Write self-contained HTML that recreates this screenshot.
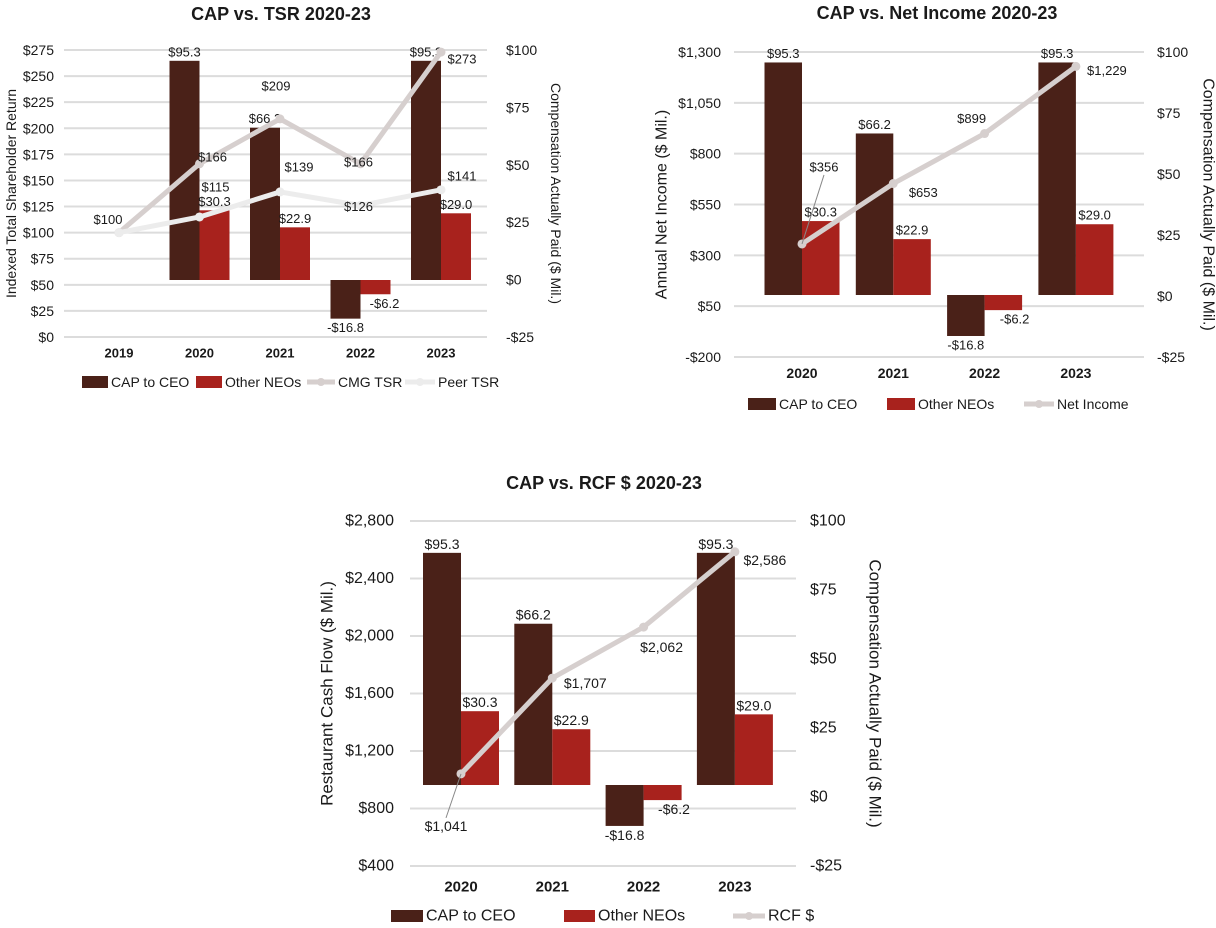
<!DOCTYPE html>
<html><head><meta charset="utf-8"><style>
html,body{margin:0;padding:0;background:#fff;}
svg{display:block;font-family:"Liberation Sans",Arial,sans-serif;}
</style></head><body>
<svg id="svg" width="1216" height="928" viewBox="0 0 1216 928"></svg>
<script>
// ---- data ----
const tsrYears = ["2019","2020","2021","2022","2023"];
const tsrCeo = [null,95.3,66.2,-16.8,95.3];
const tsrNeo = [null,30.3,22.9,-6.2,29.0];
const cmgTsr = [100,166,209,166,273];
const peerTsr = [100,115,139,126,141];
const tsrLeftTicks = [0,25,50,75,100,125,150,175,200,225,250,275];
const capTicks = [-25,0,25,50,75,100];

const niYears = ["2020","2021","2022","2023"];
const niCeo = [95.3,66.2,-16.8,95.3];
const niNeo = [30.3,22.9,-6.2,29.0];
const netIncome = [356,653,899,1229];
const niLeftTicks = [-200,50,300,550,800,1050,1300];

const rcfYears = ["2020","2021","2022","2023"];
const rcfCeo = [95.3,66.2,-16.8,95.3];
const rcfNeo = [30.3,22.9,-6.2,29.0];
const rcfValues = [1041,1707,2062,2586];
const rcfLeftTicks = [400,800,1200,1600,2000,2400,2800];

const NS="http://www.w3.org/2000/svg";
const svg=document.getElementById('svg');
function el(tag,attrs,parent){const e=document.createElementNS(NS,tag);for(const k in attrs)e.setAttribute(k,attrs[k]);(parent||svg).appendChild(e);return e;}
function txt(s,x,y,size,opts,parent){opts=opts||{};const t=el('text',{x:x,y:y,'font-size':size,fill:'#1a1a1a','text-anchor':opts.anchor||'middle','dominant-baseline':'central','font-weight':opts.bold?'bold':'normal'},parent);if(opts.rot)t.setAttribute('transform','rotate('+opts.rot+' '+x+' '+y+')');t.textContent=s;return t;}
function fmt(v,comma){const neg=v<0;let a=Math.abs(v);let s=comma?a.toLocaleString('en-US'):a.toFixed(1);return (neg?'-$':'$')+s;}

function drawChart(c){
  const g=el('g',{});
  
  
  const L=v=>c.lBot-(v-c.lMin)/(c.lMax-c.lMin)*(c.lBot-c.lTop);
  const R=v=>c.rBot-(v+25)/125*(c.rBot-c.rTop);
  const B=v=>c.base-v*c.bs;
  const X=i=>c.x0+i*c.dx;
  const t=txt(c.title,c.titleX,c.titleY,18,{bold:true},g);
  
  c.lTicks.forEach(v=>{
    const y=L(v);
    const ln=el('line',{x1:c.gx1,x2:c.gx2,y1:y,y2:y,stroke:'#dcdcdc','stroke-width':2},g);
    
    const tl=txt(fmt(v,true),c.lLabX,y,c.tf,{anchor:'end'},g);
    
  });
  capTicks.forEach(v=>{
    const tr=txt(fmt(v,true),c.rLabX,R(v),c.tf,{anchor:'start'},g);
    
  });
  const lt=txt(c.lTitle,c.lTitleX,(c.lTop+c.lBot)/2,c.af,{rot:-90},g);
  
  const rt=txt('Compensation Actually Paid ($ Mil.)',c.rTitleX,(c.rTop+c.rBot)/2,c.af,{rot:90},g);
  
  c.years.forEach((yr,i)=>{
    const cl=txt(yr,X(i),c.catY,c.cf,{bold:true},g);
    
  });
  [[c.ceo,-1,'#4a2118','bar-ceo'],[c.neo,0,'#a8221d','bar-neo']].forEach(([arr,off,col,nm])=>{
    arr.forEach((v,i)=>{
      if(v===null)return;
      const x=X(i)+off*c.bw, y1=B(Math.max(v,0)), y2=B(Math.min(v,0));
      const r=el('rect',{x:x,y:y1,width:c.bw,height:y2-y1,fill:col},g);
      
      const ly=v>=0?y1-9:y2+9;
      const lx=x+c.bw/2+(v<0&&off===0?c.bw*0.3:0);
      const dl=txt(fmt(v),lx,ly,c.df,{},g);
      
    });
  });
  c.lines.forEach(ln=>{
    const pts=ln.vals.map((v,i)=>[X(i),L(v)]);
    const p=el('polyline',{points:pts.map(p=>p.join(',')).join(' '),fill:'none',stroke:ln.color,'stroke-width':5,'stroke-linejoin':'round'},g);
    
    pts.forEach((pt,i)=>{
      const m=el('circle',{cx:pt[0],cy:pt[1],r:4.5,fill:ln.color},g);
      
      const o=ln.offs[i];
      if(o[2]===0)return;
      if(o[2]){const ll=el('line',{x1:pt[0],y1:pt[1],x2:pt[0]+o[0],y2:pt[1]+o[1]+(o[1]<0?8:-8),stroke:'#888','stroke-width':1},g);}
      const lb=txt(fmt(ln.vals[i],true),pt[0]+o[0],pt[1]+o[1],c.df,{},g);
      
    });
  });
  c.legend.forEach(it=>{
    let s;
    if(it.type==='bar') s=el('rect',{x:it.x,y:c.legY-6,width:it.w,height:12,fill:it.color},g);
    else { s=el('line',{x1:it.x,x2:it.x+it.w,y1:c.legY,y2:c.legY,stroke:it.color,'stroke-width':5},g);
      el('circle',{cx:it.x+it.w/2,cy:c.legY,r:4,fill:it.color},g); }
    
    const lt2=txt(it.label,it.x+it.w+3,c.legY,c.lf,{anchor:'start'},g);
    
  });
}

drawChart({name:'cap-vs-tsr-chart',title:'CAP vs. TSR 2020-23',titleX:281,titleY:14,
  years:tsrYears,ceo:tsrCeo,neo:tsrNeo,x0:119,dx:80.5,bw:30,base:280,bs:2.3,
  lMin:0,lMax:275,lTop:50,lBot:337,rTop:50,rBot:337,lTicks:tsrLeftTicks,
  gx1:64,gx2:487,lLabX:54,rLabX:506,lTitle:'Indexed Total Shareholder Return',lTitleX:11,rTitleX:556,
  catY:353,tf:14,af:14,cf:13,df:13,lf:14,legY:382,
  lines:[{name:'cmg-tsr-line',color:'#d6cfce',vals:cmgTsr,offs:[[-11,-13],[13,-7],[-4,-33],[-2,-2],[21,7]]},
         {name:'peer-tsr-line',color:'#ececec',vals:peerTsr,offs:[[0,0,0],[16,-30],[19,-25],[-2,1],[21,-14]]}],
  legend:[{type:'bar',x:82,w:26,color:'#4a2118',label:'CAP to CEO'},{type:'bar',x:196,w:26,color:'#a8221d',label:'Other NEOs'},
          {type:'line',x:307,w:28,color:'#d6cfce',label:'CMG TSR'},{type:'line',x:405,w:30,color:'#ececec',label:'Peer TSR'}]});
drawChart({name:'cap-vs-net-income-chart',title:'CAP vs. Net Income 2020-23',titleX:937,titleY:13,
  years:niYears,ceo:niCeo,neo:niNeo,x0:802,dx:91.3,bw:37.5,base:295,bs:2.44,
  lMin:-200,lMax:1300,lTop:52,lBot:357,rTop:52,rBot:357,lTicks:niLeftTicks,
  gx1:734,gx2:1144,lLabX:721,rLabX:1157,lTitle:'Annual Net Income ($ Mil.)',lTitleX:662,rTitleX:1208,
  catY:373,tf:14,af:16,cf:14,df:13,lf:14,legY:404,
  lines:[{name:'net-income-line',color:'#d6cfce',vals:netIncome,offs:[[22,-77,1],[30,9],[-13,-15],[31,4]]}],
  legend:[{type:'bar',x:748,w:28,color:'#4a2118',label:'CAP to CEO'},{type:'bar',x:887,w:28,color:'#a8221d',label:'Other NEOs'},
          {type:'line',x:1024,w:30,color:'#d6cfce',label:'Net Income'}]});
drawChart({name:'cap-vs-rcf-chart',title:'CAP vs. RCF $ 2020-23',titleX:604,titleY:483,
  years:rcfYears,ceo:rcfCeo,neo:rcfNeo,x0:461,dx:91.3,bw:38,base:785,bs:2.436,
  lMin:400,lMax:2800,lTop:521,lBot:866,rTop:521,rBot:866,lTicks:rcfLeftTicks,
  gx1:410,gx2:796,lLabX:394,rLabX:810,lTitle:'Restaurant Cash Flow ($ Mil.)',lTitleX:327,rTitleX:875,
  catY:887,tf:16,af:17,cf:15,df:14,lf:16,legY:916,
  lines:[{name:'rcf-line',color:'#d6cfce',vals:rcfValues,offs:[[-15,52,1],[33,5],[18,20],[30,8]]}],
  legend:[{type:'bar',x:391,w:32,color:'#4a2118',label:'CAP to CEO'},{type:'bar',x:564,w:31,color:'#a8221d',label:'Other NEOs'},
          {type:'line',x:733,w:32,color:'#d6cfce',label:'RCF $'}]});
</script>
</body></html>
